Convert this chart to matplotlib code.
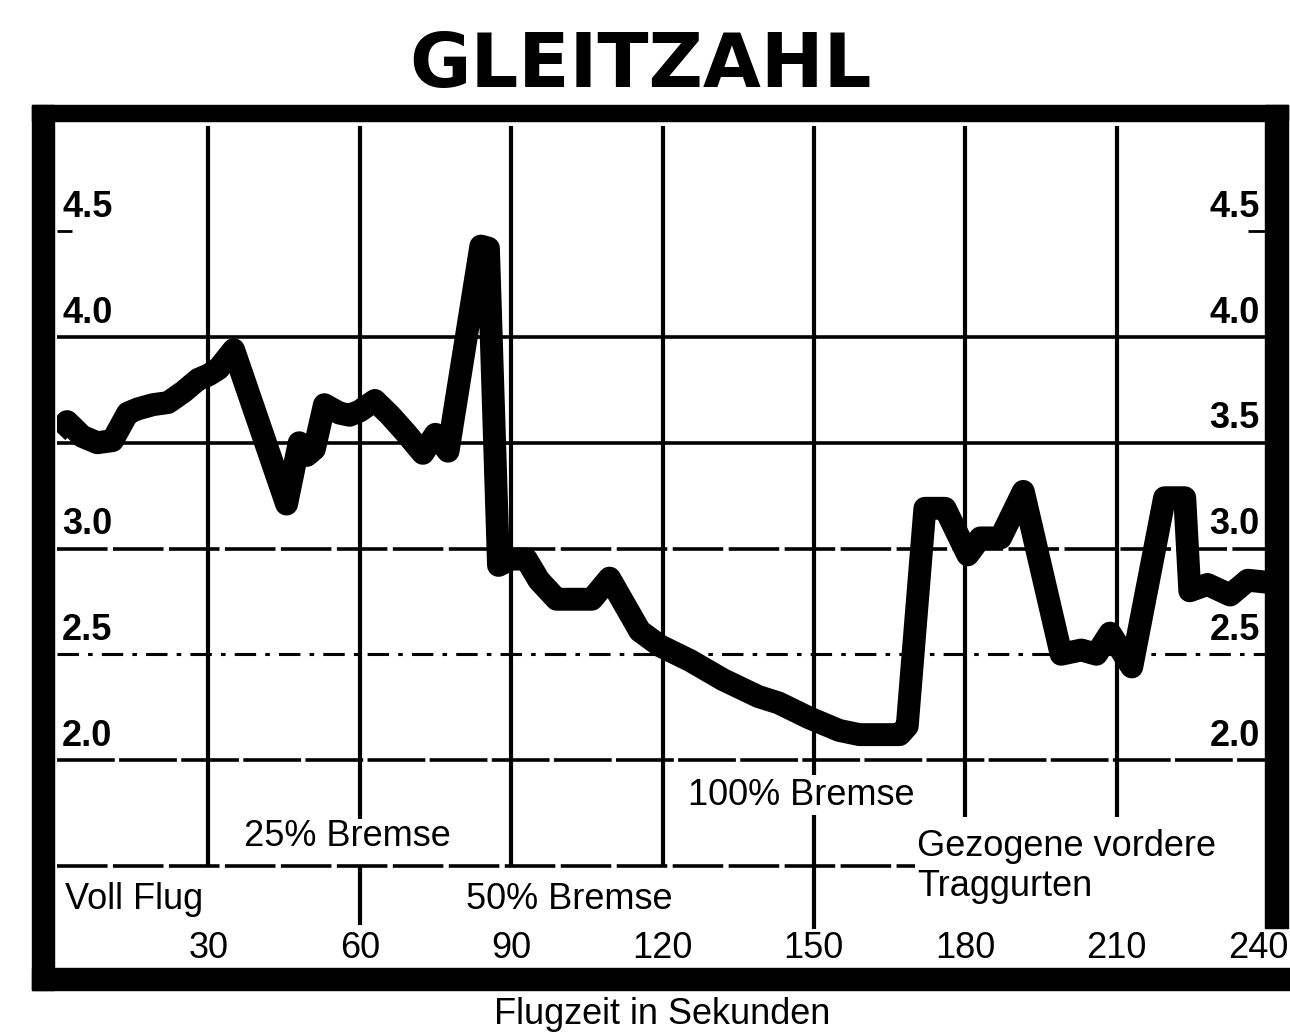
import matplotlib.pyplot as plt
from matplotlib.patches import Rectangle

# glide ratio over flight time
time_s = [0, 2, 5, 8, 11, 14, 16, 19, 22, 25, 28, 30, 32, 35, 45.5, 48, 49.5, 51, 53,
          56, 58, 60, 63, 66, 69, 72.5, 75, 77.5, 84, 85.5, 87.5, 90, 93, 95.5, 99,
          106, 109.5, 115.5, 119.5, 125.5, 132, 139, 143, 149, 155, 159, 167, 168.5,
          172, 176, 180.5, 183, 187, 191.5, 199, 203, 206, 208.7, 213, 219.5, 223.5,
          224.5, 228, 232.5, 236, 240]
glide = [3.55, 3.60, 3.53, 3.50, 3.51, 3.64, 3.66, 3.68, 3.69, 3.74, 3.80, 3.82, 3.85,
         3.94, 3.21, 3.50, 3.44, 3.47, 3.68, 3.64, 3.63, 3.65, 3.70, 3.63, 3.55, 3.45,
         3.54, 3.46, 4.43, 4.42, 2.92, 2.95, 2.95, 2.85, 2.76, 2.76, 2.86, 2.61, 2.54,
         2.47, 2.38, 2.30, 2.27, 2.20, 2.14, 2.12, 2.12, 2.16, 3.19, 3.19, 2.97, 3.05,
         3.05, 3.27, 2.50, 2.52, 2.50, 2.60, 2.44, 3.24, 3.24, 2.80, 2.83, 2.78, 2.85,
         2.84]

x_ticks = [30, 60, 90, 120, 150, 180, 210, 240]
y_left = [4.5, 4.0, 3.0, 2.5, 2.0]
y_right = [4.5, 4.0, 3.5, 3.0, 2.5, 2.0]

phase_labels = ["Voll Flug", "25% Bremse", "50% Bremse", "100% Bremse",
                "Gezogene vordere", "Traggurten"]
phase_x = [1.5, 37, 81, 125, 170.5, 170.5]
phase_y = [1.34, 1.64, 1.34, 1.83, 1.59, 1.40]

W, H = 1290, 1036
fig = plt.figure(figsize=(W / 100, H / 100), dpi=100)
fig.patch.set_facecolor("white")


def fx(px):
    return px / W


def fy(py):
    return 1 - py / H


ax = fig.add_axes([fx(57), fy(971.5), fx(1268) - fx(57), fy(125.5) - fy(971.5)])
ax.set_xlim(0, 240)
ax.set_ylim(1.0, 5.0)
ax.axis("off")

# horizontal grid
ax.hlines(4.0, 0, 240, color="black", lw=2.6, zorder=1)
ax.hlines(3.5, 0, 240, color="black", lw=2.6, zorder=1)
ax.hlines(3.0, 0, 240, color="black", lw=2.6, linestyles=(0, (14, 1.5)), zorder=1)
ax.hlines(2.5, 0, 240, color="black", lw=2.2, linestyles=(0, (7, 3, 1.5, 3)), zorder=1)
ax.hlines(2.0, 0, 240, color="black", lw=2.6, linestyles=(0, (16, 1.2)), zorder=1)
ax.hlines(1.5, 0, 170, color="black", lw=2.6, linestyles=(0, (14, 1.5)), zorder=1)
ax.hlines([4.5, 4.5], [0, 236], [3, 240], color="black", lw=2, zorder=1)

# vertical grid
ax.vlines([30, 90, 120], 1.5, 5.0, color="black", lw=3, zorder=1)
ax.vlines(60, 1.72, 5.0, color="black", lw=3, zorder=1)
ax.vlines(60, 1.22, 1.5, color="black", lw=3, zorder=1)
ax.vlines(150, 1.93, 5.0, color="black", lw=3, zorder=1)
ax.vlines(150, 1.2, 1.74, color="black", lw=3, zorder=1)
ax.vlines([180, 210], 1.73, 5.0, color="black", lw=3, zorder=1)

# data curve
ax.plot(time_s, glide, color="black", lw=16.5, solid_joinstyle="round",
        solid_capstyle="butt", zorder=3)

lab = dict(family="Liberation Sans", fontsize=26, fontweight="bold", color="black")
for v in y_left:
    ax.text(1.0, v + 0.03, f"{v:.1f}", ha="left", va="bottom", zorder=2, **lab)
for v in y_right:
    ax.text(238.4, v + 0.03, f"{v:.1f}", ha="right", va="bottom", zorder=2, **lab)

tick = dict(family="Liberation Sans", fontsize=26, color="black")
for t in x_ticks[:-1]:
    ax.text(t, 1.107, str(t), ha="center", va="center", **tick)
# last label sits against the right edge of the picture
fig.text(fx(1288), fy(949), str(x_ticks[-1]), ha="right", va="center", **tick)

for s, x, y in zip(phase_labels, phase_x, phase_y):
    ax.text(x, y, s, ha="left", va="center", zorder=4, **tick)

fig.text(fx(662), fy(1015), "Flugzeit in Sekunden", ha="center", va="center", **tick)
fig.text(fx(640), fy(66), "GLEITZAHL", ha="center", va="center",
         family="DejaVu Sans", fontweight="bold", fontsize=54)

# thick frame
for x0, y0, x1, y1 in [(32, 105, 54, 990), (32, 105, 1288, 121),
                       (1265, 105, 1288, 928), (32, 968, 1290, 990)]:
    fig.add_artist(Rectangle((fx(x0), fy(y1)), fx(x1) - fx(x0), fy(y0) - fy(y1),
                             transform=fig.transFigure, color="black", zorder=5))

fig.savefig("out.png", dpi=100)
